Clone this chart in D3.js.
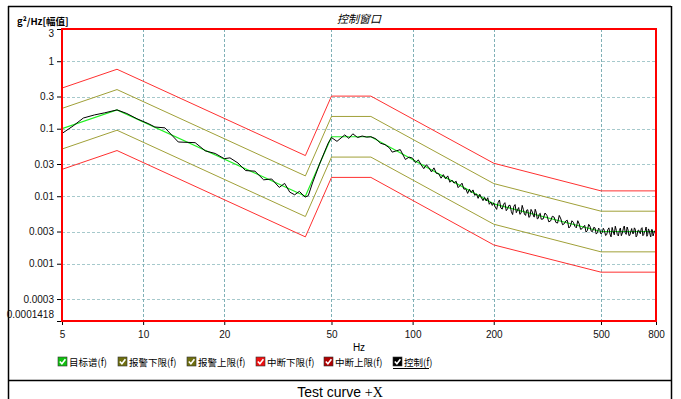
<!DOCTYPE html>
<html>
<head>
<meta charset="utf-8">
<script src="https://cdn.jsdelivr.net/npm/d3@7"></script>
<style>
html,body{margin:0;padding:0;background:#fff;}
svg{display:block;}
</style>
</head>
<body>
<svg id="chart" width="681" height="399"></svg>
<script>
// ---------- data ----------
const profileFreqs = [5, 8, 40, 50, 70, 200, 500, 800];
const targetVals    = [0.1, 0.19, 0.01, 0.076, 0.076, 0.0077, 0.003, 0.003];
const alarmLowVals  = [0.05, 0.095, 0.005, 0.038, 0.038, 0.00385, 0.0015, 0.0015];
const alarmHighVals = [0.2, 0.38, 0.02, 0.152, 0.152, 0.0154, 0.006, 0.006];
const abortLowVals  = [0.025, 0.0475, 0.0025, 0.019, 0.019, 0.0019, 0.00075, 0.00075];
const abortHighVals = [0.4, 0.76, 0.04, 0.304, 0.304, 0.0308, 0.012, 0.012];

const controlFreqs = [
  5, 5.5, 6, 6.6, 7.2, 8, 8.7, 9.5, 10.5, 11.05, 12.05, 13.5, 15.6, 17, 18.5, 20, 21, 22.5, 24, 26, 28, 30, 32, 33.5, 35, 36.5, 38, 39.9, 41, 42.5, 45.3, 48.6,
  50, 52.4, 56, 58, 60, 62.5, 65, 67.5, 70, 73, 76, 79, 82, 84, 87, 90, 94, 97,
  100, 102.5, 105, 107.5, 110, 112.5, 115, 117.5, 120, 122.5, 125, 127.5, 130, 132.5, 135, 137.5, 140, 142.5, 145, 147.5,
  150, 152.5, 155, 157.5, 160, 162.5, 165, 167.5, 170, 172.5, 175, 177.5, 180, 182.5, 185, 187.5, 190, 192.5, 195, 197.5,
  200, 205, 210, 215, 220, 225, 230, 235, 240, 245, 250, 255, 260, 265, 270, 275, 280, 285, 290, 295,
  300, 310, 320, 330, 340, 350, 360, 370, 380, 390, 400, 410, 420, 430, 440, 450, 460, 470, 480, 490,
  500, 510, 520, 530, 540, 550, 560, 570, 580, 590, 600, 610, 620, 630, 640, 650, 660, 670, 680, 690,
  700, 710, 720, 730, 740, 750, 760, 770, 780, 790, 800
];
const controlVals = [
  0.085, 0.11, 0.144, 0.16, 0.172, 0.19, 0.168, 0.14, 0.118, 0.106, 0.103, 0.0636, 0.0621, 0.047, 0.043, 0.036, 0.037, 0.031, 0.024, 0.0235, 0.0175, 0.018, 0.0135, 0.0155, 0.0115, 0.0105, 0.0118, 0.0097, 0.0102, 0.0157, 0.031, 0.061,
  0.074, 0.065, 0.081, 0.072, 0.084, 0.074, 0.078, 0.075, 0.076, 0.071, 0.061, 0.058, 0.052, 0.045, 0.047, 0.049, 0.035, 0.038,
  0.0366, 0.0314, 0.0345, 0.0293, 0.0256, 0.0293, 0.0263, 0.0229, 0.0263, 0.0218, 0.0215, 0.0185, 0.0209, 0.0181, 0.0200, 0.0161, 0.0173, 0.0156, 0.0167, 0.0134,
  0.0144, 0.0156, 0.0127, 0.0129, 0.0110, 0.0127, 0.0113, 0.0124, 0.0103, 0.0108, 0.0093, 0.0107, 0.0095, 0.0086, 0.0096, 0.0085, 0.0095, 0.0076, 0.0082, 0.0073,
  0.0080, 0.00638, 0.0088, 0.00644, 0.00803, 0.00648, 0.00734, 0.00535, 0.00753, 0.00625, 0.00539, 0.00732, 0.00541, 0.00622, 0.00486, 0.00638, 0.00528, 0.00641, 0.00462, 0.00542,
  0.00456, 0.00564, 0.00418, 0.00505, 0.0041, 0.0052, 0.00378, 0.00429, 0.00338, 0.00433, 0.00358, 0.00434, 0.00323, 0.0035, 0.00294, 0.00384, 0.00303, 0.00345, 0.00275, 0.00337,
  0.00276, 0.00335, 0.00262, 0.0032, 0.00275, 0.00345, 0.00268, 0.00312, 0.00258, 0.00338, 0.00285, 0.00362, 0.00272, 0.00318, 0.00265, 0.00332, 0.0028, 0.00325, 0.00262, 0.00315,
  0.00278, 0.00342, 0.00268, 0.0031, 0.00255, 0.00328, 0.00272, 0.0032, 0.00258, 0.00305, 0.00265
];
// additional samples of the control spectrum (high-frequency region is densely sampled)
const controlFreqsFine = [
  202.5, 207.5, 212.5, 217.5, 222.5, 227.5, 232.5, 237.5, 242.5, 247.5, 252.5, 257.5, 262.5, 267.5, 272.5, 277.5, 282.5, 287.5, 292.5, 297.5,
  305, 315, 325, 335, 345, 355, 365, 375, 385, 395, 405, 415, 425, 435, 445, 455, 465, 475, 485, 495,
  505, 515, 525, 535, 545, 555, 565, 575, 585, 595, 605, 615, 625, 635, 645, 655, 665, 675, 685, 695,
  705, 715, 725, 735, 745, 755, 765, 775, 785, 795
];
const controlValsFine = [
  0.0069, 0.0080, 0.0067, 0.0076, 0.0061, 0.0073, 0.0059, 0.0071, 0.0057, 0.0068, 0.0056, 0.0064, 0.0052, 0.0063, 0.0050, 0.0060, 0.0049, 0.0058, 0.0047, 0.0056,
  0.0046, 0.0052, 0.0043, 0.0049, 0.0040, 0.0046, 0.0039, 0.0044, 0.0036, 0.0041, 0.0034, 0.0039, 0.0033, 0.0037, 0.0031, 0.0036, 0.0030, 0.0034, 0.0029, 0.0032,
  0.0029, 0.0031, 0.0027, 0.0034, 0.0025, 0.0030, 0.0036, 0.0027, 0.0031, 0.0026, 0.0033, 0.0029, 0.0035, 0.0026, 0.0030, 0.0028, 0.0034, 0.0025, 0.0031, 0.0029,
  0.0033, 0.0026, 0.0030, 0.0035, 0.0027, 0.0031, 0.0025, 0.0032, 0.0028, 0.0030
];

const yTicks = [3, 1, 0.3, 0.1, 0.03, 0.01, 0.003, 0.001, 0.0003, 0.0001418];
const yTickLabels = ["3", "1", "0.3", "0.1", "0.03", "0.01", "0.003", "0.001", "0.0003", "0.0001418"];
const xTicks = [5, 10, 20, 50, 100, 200, 500, 800];
const xTickLabels = ["5", "10", "20", "50", "100", "200", "500", "800"];

const legendLabels = ["目标谱(f)", "报警下限(f)", "报警上限(f)", "中断下限(f)", "中断上限(f)", "控制(f)"];
const titleText = "控制窗口";
const yLabelText = "g²/Hz[幅值]";
const xLabelText = "Hz";
const captionText = "Test curve ";
const captionTail = "+X";

// ---------- layout ----------
const svg = d3.select("#chart");
const L = 62, R = 656, T = 29, B = 321;
const x = d3.scaleLog().domain([5, 800]).range([L, R]);
const y = d3.scaleLog().domain([0.0001418, 3]).range([B, T]);

const sans = "'Liberation Sans', Arial, sans-serif";
const cjk = "'Noto Sans CJK SC', 'Liberation Sans', sans-serif";

// outer frame
svg.append("line").attr("x1", 8).attr("x2", 671).attr("y1", 6.5).attr("y2", 6.5).attr("stroke", "#000").attr("stroke-width", 1.5);
svg.append("line").attr("x1", 8.5).attr("x2", 8.5).attr("y1", 6).attr("y2", 399).attr("stroke", "#000").attr("stroke-width", 1.5);
svg.append("line").attr("x1", 671.5).attr("x2", 671.5).attr("y1", 6).attr("y2", 399).attr("stroke", "#000").attr("stroke-width", 1.5);
svg.append("line").attr("x1", 8).attr("x2", 672).attr("y1", 380.5).attr("y2", 380.5).attr("stroke", "#000").attr("stroke-width", 1.5);

// grid
const gridH = svg.append("g");
gridH.selectAll("line").data(yTicks.slice(1, -1)).join("line")
  .attr("x1", L).attr("x2", R)
  .attr("y1", d => Math.round(y(d)) + 0.5).attr("y2", d => Math.round(y(d)) + 0.5)
  .attr("stroke", "#a6c9cc").attr("stroke-dasharray", "3,2");
const gridV = svg.append("g");
gridV.selectAll("line").data(xTicks.slice(1, -1)).join("line")
  .attr("x1", d => Math.round(x(d)) + 0.5).attr("x2", d => Math.round(x(d)) + 0.5)
  .attr("y1", T).attr("y2", B)
  .attr("stroke", "#7fb0b6").attr("stroke-dasharray", "3,2");

// axes
const yAxis = d3.axisLeft(y).tickValues(yTicks).tickSize(5).tickFormat((d, i) => yTickLabels[i]);
const gy = svg.append("g").attr("transform", `translate(${L},0)`).call(yAxis);
gy.select(".domain").remove();
gy.selectAll("text").attr("font-family", sans).attr("font-size", 10).attr("fill", "#111")
  .attr("dy", (d, i) => i === 0 ? "0.75em" : (i === yTicks.length - 1 ? "-0.35em" : "0.32em"));
gy.selectAll(".tick line").attr("stroke", "#000");

const xAxis = d3.axisBottom(x).tickValues(xTicks).tickSize(4).tickFormat((d, i) => xTickLabels[i]);
const gx = svg.append("g").attr("transform", `translate(0,${B})`).call(xAxis);
gx.select(".domain").remove();
gx.selectAll("text").attr("font-family", sans).attr("font-size", 10).attr("fill", "#111").attr("dy", "0.95em");
gx.selectAll(".tick line").attr("stroke", "#000");

// clip
svg.append("clipPath").attr("id", "clip").append("rect").attr("x", L).attr("y", T).attr("width", R - L).attr("height", B - T);

const line = d3.line().x(d => x(d[0])).y(d => y(d[1]));
const plot = svg.append("g").attr("clip-path", "url(#clip)");
function profile(vals) { return profileFreqs.map((f, i) => [f, vals[i]]); }

plot.append("path").datum(profile(abortHighVals)).attr("d", line).attr("fill", "none").attr("stroke", "#ff3030").attr("stroke-width", 1);
plot.append("path").datum(profile(abortLowVals)).attr("d", line).attr("fill", "none").attr("stroke", "#ff3030").attr("stroke-width", 1);
plot.append("path").datum(profile(alarmHighVals)).attr("d", line).attr("fill", "none").attr("stroke", "#a0a038").attr("stroke-width", 1);
plot.append("path").datum(profile(alarmLowVals)).attr("d", line).attr("fill", "none").attr("stroke", "#a0a038").attr("stroke-width", 1);
plot.append("path").datum(profile(targetVals)).attr("d", line).attr("fill", "none").attr("stroke", "#20f020").attr("stroke-width", 1.2);

const controlPts = controlFreqs.map((f, i) => [f, controlVals[i]])
  .concat(controlFreqsFine.map((f, i) => [f, controlValsFine[i]]))
  .sort((a, b) => a[0] - b[0]);
plot.append("path").datum(controlPts).attr("d", line).attr("fill", "none").attr("stroke", "#000").attr("stroke-width", 1);

// red plot frame
svg.append("rect").attr("x", L).attr("y", T).attr("width", R - L).attr("height", B - T)
  .attr("fill", "none").attr("stroke", "#ff0000").attr("stroke-width", 2);

// titles
svg.append("text").attr("x", (L + R) / 2).attr("y", 23).attr("text-anchor", "middle")
  .attr("font-family", cjk).attr("font-size", 11).attr("font-style", "italic").attr("fill", "#000").text(titleText);
svg.append("text").attr("x", 17).attr("y", 25).attr("font-family", cjk).attr("font-size", 9.5)
  .attr("font-weight", "600").attr("fill", "#000").text(yLabelText);
svg.append("text").attr("x", 359).attr("y", 351).attr("text-anchor", "middle")
  .attr("font-family", sans).attr("font-size", 10).attr("fill", "#000").text(xLabelText);

// legend
const legendX = [58, 118, 187, 256, 324, 393];
const legendFill = ["#10c010", "#6f6f10", "#6f6f10", "#ee1010", "#b00000", "#000"];
const lg = svg.append("g");
legendLabels.forEach((lab, i) => {
  const g = lg.append("g").attr("transform", `translate(${legendX[i]},357)`);
  g.append("rect").attr("x", 0).attr("y", 0).attr("width", 9).attr("height", 9)
    .attr("fill", legendFill[i]).attr("stroke", "#333").attr("stroke-width", 0.6);
  g.append("path").attr("d", "M1.8,4.5 L3.9,6.8 L7.4,2.2").attr("fill", "none")
    .attr("stroke", "#fff").attr("stroke-width", 1.6);
  g.append("text").attr("x", 11).attr("y", 8.5).attr("font-family", cjk)
    .attr("font-size", 9.5).attr("fill", "#000").text(lab);
  if (i === legendLabels.length - 1) {
    g.append("line").attr("x1", 0).attr("x2", 36).attr("y1", 11.5).attr("y2", 11.5).attr("stroke", "#000").attr("stroke-width", 1);
  }
});

// caption
const cap = svg.append("text").attr("x", 340).attr("y", 397).attr("text-anchor", "middle")
  .attr("font-family", sans).attr("font-size", 14).attr("fill", "#000");
cap.append("tspan").text(captionText);
cap.append("tspan").attr("font-family", "'Liberation Serif', serif").text(captionTail);
</script>
</body>
</html>
